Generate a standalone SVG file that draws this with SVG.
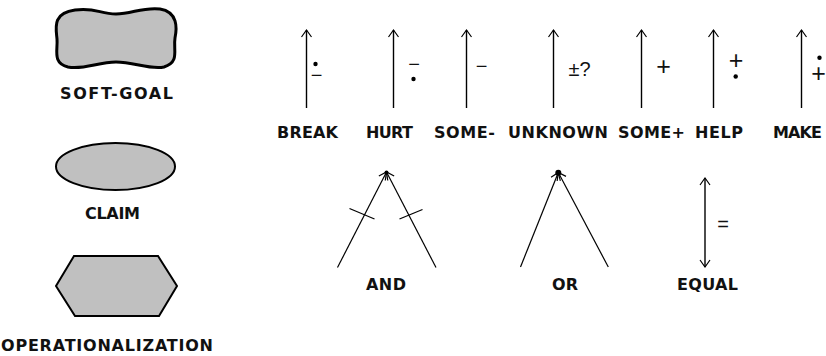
<svg xmlns="http://www.w3.org/2000/svg" width="826" height="356" viewBox="0 0 826 356">
<style>
.lbl{font-family:"DejaVu Sans","Liberation Sans",sans-serif;font-weight:bold;font-size:16px;fill:#111}
.sym{font-family:"Liberation Sans",Arial,sans-serif;font-size:20px;fill:#111;text-anchor:middle}
.pl{font-size:25px}
.shape{fill:#c0c0c0;stroke:#000}
.ln{stroke:#000;stroke-width:1.4;fill:none}
.leg{stroke:#000;stroke-width:1.2;fill:none}
</style>
<defs>
<marker id="ah" viewBox="-9 -7 12 14" refX="0" refY="0" markerWidth="12" markerHeight="14" markerUnits="userSpaceOnUse" orient="auto-start-reverse">
<path d="M-7,-5 L0,0 L-7,5" fill="none" stroke="#000" stroke-width="1.2"/>
</marker>
</defs>
<rect width="826" height="356" fill="#fff"/>

<g id="softgoal">
<path class="shape" stroke-width="3" d="M75,10 C95,7 100,14 116,14 C132,14 142,7 160,9 C178,12 177,28 175,38 C173,50 180,62 164,67 C150,70 134,62 116,62 C98,62 84,70 68,67 C52,63 58,50 57,39 C56,28 52,13 75,10 Z"/>
<text class="lbl" x="60" y="99" textLength="113">SOFT-GOAL</text>
</g>

<g id="claim">
<ellipse class="shape" stroke-width="2" cx="115.5" cy="166.5" rx="59.5" ry="23.5"/>
<text class="lbl" x="85" y="219" textLength="55">CLAIM</text>
</g>

<g id="operationalization">
<polygon class="shape" stroke-width="2" points="74,256 158,256 177,286 159,316 75,316 56,286"/>
<text class="lbl" x="1" y="351" textLength="212">OPERATIONALIZATION</text>
</g>

<g id="connectors">
<line class="ln" x1="306.5" y1="108" x2="306.5" y2="30" marker-end="url(#ah)"/>
<line class="ln" x1="393.5" y1="108" x2="393.5" y2="30" marker-end="url(#ah)"/>
<line class="ln" x1="466.5" y1="108" x2="466.5" y2="30" marker-end="url(#ah)"/>
<line class="ln" x1="553.5" y1="108" x2="553.5" y2="30" marker-end="url(#ah)"/>
<line class="ln" x1="641.5" y1="108" x2="641.5" y2="30" marker-end="url(#ah)"/>
<line class="ln" x1="713.5" y1="108" x2="713.5" y2="30" marker-end="url(#ah)"/>
<line class="ln" x1="801.5" y1="108" x2="801.5" y2="30" marker-end="url(#ah)"/>
<line class="leg" x1="337.5" y1="267.5" x2="386.5" y2="172" marker-end="url(#ah)"/>
<line class="leg" x1="436" y1="267.5" x2="386.5" y2="172" marker-end="url(#ah)"/>
<line class="leg" x1="349.5" y1="208.5" x2="374.5" y2="219"/>
<line class="leg" x1="399.5" y1="219" x2="422.5" y2="209.5"/>
<circle cx="386.5" cy="172.5" r="2"/>
<line class="leg" x1="520.5" y1="267" x2="558.3" y2="172.5" marker-end="url(#ah)"/>
<line class="leg" x1="608.3" y1="267" x2="558.3" y2="172.5" marker-end="url(#ah)"/>
<circle cx="558.3" cy="172.7" r="3"/>
<line class="ln" x1="705" y1="267" x2="705" y2="178" marker-start="url(#ah)" marker-end="url(#ah)"/>
</g>

<g id="break">
<circle cx="315.5" cy="64" r="2.2"/>
<text class="sym" x="316.5" y="82">−</text>
<text class="lbl" x="277" y="138" textLength="61">BREAK</text>
</g>
<g id="hurt">
<text class="sym" x="414" y="71">−</text>
<circle cx="413.5" cy="79" r="2.2"/>
<text class="lbl" x="366" y="138" textLength="47">HURT</text>
</g>
<g id="some-minus">
<text class="sym" x="481.5" y="73">−</text>
<text class="lbl" x="434" y="138" textLength="61">SOME-</text>
</g>
<g id="unknown">
<text class="sym" x="579.5" y="75.5" font-size="20">±?</text>
<text class="lbl" x="508" y="138" textLength="100">UNKNOWN</text>
</g>
<g id="some-plus">
<text class="sym pl" x="663.5" y="74.5">+</text>
<text class="lbl" x="618" y="138" textLength="67">SOME+</text>
</g>
<g id="help">
<text class="sym pl" x="736" y="69">+</text>
<circle cx="735.7" cy="76.5" r="2.2"/>
<text class="lbl" x="695" y="138" textLength="48">HELP</text>
</g>
<g id="make">
<circle cx="819.5" cy="57.7" r="2.2"/>
<text class="sym pl" x="818.5" y="81.5">+</text>
<text class="lbl" x="773" y="138" textLength="49">MAKE</text>
</g>
<g id="and">
<text class="lbl" x="366" y="290" textLength="40">AND</text>
</g>
<g id="or">
<text class="lbl" x="552" y="290" textLength="26">OR</text>
</g>
<g id="equal">
<text class="sym" x="723" y="231" font-size="18">=</text>
<text class="lbl" x="677" y="290" textLength="61">EQUAL</text>
</g>
</svg>
